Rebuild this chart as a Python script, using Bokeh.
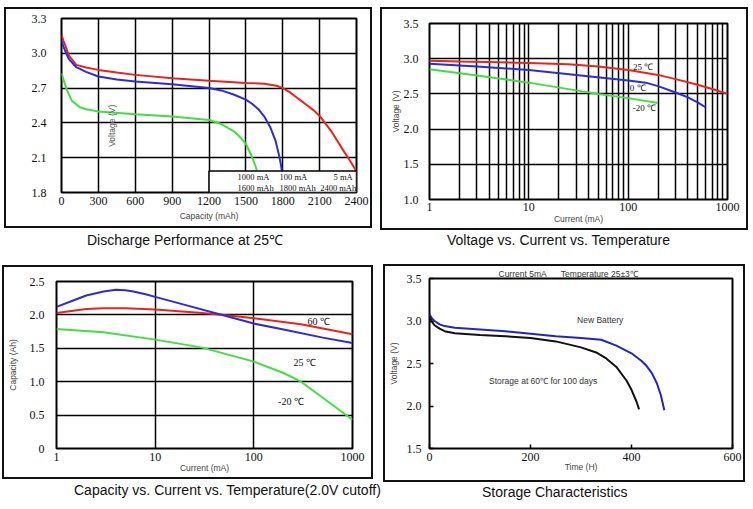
from math import pi
from bokeh.plotting import figure
from bokeh.models import (Label, Title, FixedTicker, PrintfTickFormatter, Range1d,
                          Div, Spacer)
from bokeh.layouts import column, row
from bokeh.embed import file_html
from bokeh.resources import INLINE

# ---------------- data ----------------
# Panel 1: Discharge performance at 25C
p1_xticks = [0, 300, 600, 900, 1200, 1500, 1800, 2100, 2400]
p1_yticks = [1.8, 2.1, 2.4, 2.7, 3.0, 3.3]
red5_cap = [0, 15, 30, 60, 120, 200, 300, 450, 600, 900, 1200, 1500, 1650, 1750, 1800,
            1850, 1900, 1950, 2000, 2050, 2100, 2200, 2300, 2350, 2395]
red5_v = [3.16, 3.11, 3.07, 2.98, 2.90, 2.878, 2.857, 2.835, 2.814, 2.785, 2.763, 2.745,
          2.738, 2.72, 2.70, 2.67, 2.63, 2.59, 2.55, 2.51, 2.46, 2.32, 2.15, 2.07, 1.99]
blue100_cap = [0, 15, 30, 60, 120, 200, 300, 450, 600, 900, 1200, 1300, 1400, 1500, 1550,
               1600, 1650, 1700, 1740, 1770, 1785, 1792]
blue100_v = [3.11, 3.06, 3.02, 2.95, 2.88, 2.84, 2.80, 2.775, 2.757, 2.734, 2.70, 2.68,
             2.645, 2.60, 2.565, 2.52, 2.455, 2.36, 2.25, 2.12, 2.04, 1.99]
green1000_cap = [0, 20, 45, 85, 150, 200, 300, 600, 900, 1200, 1300, 1400, 1450, 1500,
                 1540, 1570, 1590]
green1000_v = [2.83, 2.76, 2.68, 2.59, 2.535, 2.518, 2.498, 2.475, 2.455, 2.425, 2.39,
               2.33, 2.28, 2.22, 2.13, 2.05, 1.99]
p1_legend_rates = ["1000 mA", "100 mA", "5 mA"]
p1_legend_caps = ["1600 mAh", "1800 mAh", "2400 mAh"]

# Panel 2: Voltage vs current vs temperature
p2_xticks = [1, 10, 100, 1000]
p2_xminor = [2, 3, 4, 5, 6, 7, 8, 9, 20, 30, 40, 50, 60, 70, 80, 90,
             200, 300, 400, 500, 600, 700, 800, 900]
p2_yticks = [1.0, 1.5, 2.0, 2.5, 3.0, 3.5]
t25_i = [1, 2, 5, 10, 25, 50, 100, 200, 300, 500, 700, 1000]
t25_v = [2.97, 2.96, 2.95, 2.94, 2.92, 2.89, 2.84, 2.77, 2.71, 2.63, 2.57, 2.50]
t0_i = [1, 3, 10, 30, 100, 150, 200, 300, 400, 500, 600]
t0_v = [2.93, 2.89, 2.84, 2.77, 2.69, 2.66, 2.61, 2.52, 2.45, 2.38, 2.31]
tm20_i = [1, 3, 10, 30, 50, 100, 200]
tm20_v = [2.85, 2.76, 2.66, 2.55, 2.50, 2.44, 2.37]

# Panel 3: Capacity vs current vs temperature
p3_xticks = [1, 10, 100, 1000]
p3_yticks = [0, 0.5, 1.0, 1.5, 2.0, 2.5]
c25_i = [1, 1.5, 2, 3, 4, 5, 6, 8, 10, 20, 50, 100, 200, 500, 1000]
c25_c = [2.12, 2.22, 2.29, 2.35, 2.375, 2.37, 2.35, 2.31, 2.27, 2.15, 1.99, 1.87, 1.78, 1.66, 1.58]
c60_i = [1, 2, 3, 5, 10, 30, 50, 100, 300, 1000]
c60_c = [2.03, 2.09, 2.10, 2.10, 2.08, 2.03, 2.00, 1.95, 1.86, 1.71]
cm20_i = [1, 3, 10, 30, 100, 200, 300, 500, 1000]
cm20_c = [1.79, 1.74, 1.63, 1.51, 1.30, 1.13, 1.00, 0.76, 0.43]

# Panel 4: Storage characteristics
p4_xticks = [0, 200, 400, 600]
p4_yticks = [1.5, 2.0, 2.5, 3.0, 3.5]
new_t = [0, 5, 10, 20, 30, 50, 100, 150, 200, 250, 300, 340, 370, 400, 420, 430, 440, 450, 458, 465]
new_v = [3.08, 3.03, 3.00, 2.96, 2.94, 2.92, 2.90, 2.88, 2.85, 2.82, 2.80, 2.78, 2.71, 2.62,
         2.53, 2.47, 2.39, 2.27, 2.13, 1.95]
old_t = [0, 5, 10, 20, 30, 50, 100, 150, 200, 250, 300, 330, 350, 370, 390, 400, 410, 415]
old_v = [3.05, 2.99, 2.95, 2.91, 2.88, 2.855, 2.835, 2.82, 2.80, 2.76, 2.69, 2.63, 2.56,
         2.46, 2.30, 2.19, 2.05, 1.96]

# ---------------- styles ----------------
SERIF = "Liberation Serif"
SANS = "Liberation Sans"
RED = "#e82420"
BLUE = "#2c2cd8"
GREEN = "#44de40"
BORDER_CSS = {"border": "2px solid #111111"}


def make_fig(w, h, left, right, top, bottom, **kw):
    p = figure(width=w, height=h, output_backend="svg", toolbar_location=None,
               min_border_left=left, min_border_right=right,
               min_border_top=top, min_border_bottom=bottom, title=None,
               styles=BORDER_CSS, margin=0, **kw)
    p.outline_line_color = "black"
    p.outline_line_width = 2
    p.outline_line_alpha = 1
    p.background_fill_color = "white"
    p.border_fill_color = "white"
    for ax in p.axis:
        ax.axis_line_color = None
        ax.major_tick_line_color = None
        ax.minor_tick_line_color = None
        ax.major_label_text_font = SERIF
        ax.major_label_text_font_size = "12px"
        ax.major_label_text_color = "#111111"
        ax.axis_label_text_font = SANS
        ax.axis_label_text_font_size = "8.5px"
        ax.axis_label_text_font_style = "normal"
        ax.axis_label_text_color = "#444444"
    return p


def style_grid(p):
    for g in p.grid:
        g.grid_line_color = "black"
        g.grid_line_width = 1.5
        g.grid_line_alpha = 1


def data_label(p, text, x, y, size="9.5px", font=SERIF, color="#111111",
               align="left", angle=0):
    p.add_layout(Label(x=x, y=y, text=text, text_align=align, text_baseline="middle",
                       text_font=font, text_font_size=size, text_color=color,
                       angle=angle))


def caption(text, width, height, pad_top, pad_left):
    html = ('<div style="font-family:\'Liberation Sans\',Arial,sans-serif;font-size:14px;'
            'line-height:16px;color:#111;white-space:nowrap;text-align:left;'
            f'padding-top:{pad_top}px;padding-left:{pad_left}px;">'
            f'{text}</div>')
    return Div(text=html, width=width, height=height, margin=0,
               styles={"overflow": "visible"})


# ---------------- panel 1 ----------------
f1 = make_fig(368, 221, 55, 18, 9, 38,
              x_range=Range1d(0, 2400), y_range=Range1d(1.8, 3.3))
f1.xaxis.ticker = FixedTicker(ticks=p1_xticks)
f1.yaxis.ticker = FixedTicker(ticks=p1_yticks)
f1.yaxis.formatter = PrintfTickFormatter(format="%.1f")
f1.yaxis.major_label_standoff = 9
f1.xaxis.major_label_standoff = -2
style_grid(f1)
f1.line(red5_cap, red5_v, line_color=RED, line_width=2)
f1.line(blue100_cap, blue100_v, line_color=BLUE, line_width=2)
f1.line(green1000_cap, green1000_v, line_color=GREEN, line_width=2)
f1.quad(left=[1200], right=[2400], bottom=[1.8], top=[1.985],
        fill_color="white", line_color="black", line_width=1.5)
legend_x = [1432, 1774, 2213]
for lx, rate, cap in zip(legend_x, p1_legend_rates, p1_legend_caps):
    data_label(f1, rate, lx, 1.936, size="8.5px")
    if cap == "2400 mAh":
        data_label(f1, cap, 2398, 1.842, size="8.5px", align="right")
    else:
        data_label(f1, cap, lx, 1.842, size="8.5px")
data_label(f1, "Voltage (V)", 412, 2.375, size="8.5px", font=SANS, color="#555555",
           align="center", angle=pi / 2)
f1.add_layout(Title(text="Capacity (mAh)", align="center", offset=-11, standoff=2,
                    text_font=SANS, text_font_size="8.5px", text_font_style="normal",
                    text_color="#444444"), "below")
d1 = caption("Discharge Performance at 25\u2103", 368, 36, 4, 83)

# ---------------- panel 2 ----------------
f2 = make_fig(368, 223, 47, 23, 14, 33, x_axis_type="log",
              x_range=Range1d(1, 1000), y_range=Range1d(1.0, 3.5))
f2.xaxis.ticker = FixedTicker(ticks=p2_xticks, minor_ticks=p2_xminor)
f2.xaxis.formatter = PrintfTickFormatter(format="%d")
f2.yaxis.ticker = FixedTicker(ticks=p2_yticks)
f2.yaxis.formatter = PrintfTickFormatter(format="%.1f")
f2.yaxis.major_label_standoff = 5
f2.xaxis.major_label_standoff = -3
f2.xaxis.axis_label = "Current (mA)"
f2.yaxis.axis_label = "Voltage (V)"
f2.xaxis.axis_label_standoff = 0
f2.yaxis.axis_label_standoff = 0
style_grid(f2)
f2.xgrid.minor_grid_line_color = "black"
f2.xgrid.minor_grid_line_width = 1.5
f2.line(t25_i, t25_v, line_color=RED, line_width=2)
f2.line(t0_i, t0_v, line_color=BLUE, line_width=2)
f2.line(tm20_i, tm20_v, line_color=GREEN, line_width=2)
data_label(f2, "25 \u2103", 112, 2.876, size="9px")
data_label(f2, "0 \u2103", 104, 2.584, size="9px")
data_label(f2, "-20 \u2103", 111, 2.30, size="9px")
d2 = caption("Voltage vs. Current vs. Temperature", 368, 34, 2, 67)

# ---------------- panel 3 ----------------
f3 = make_fig(371, 214, 46, 23, 14, 33, x_axis_type="log",
              x_range=Range1d(1, 1000), y_range=Range1d(0, 2.5))
f3.xaxis.ticker = FixedTicker(ticks=p3_xticks)
f3.xaxis.formatter = PrintfTickFormatter(format="%d")
f3.yaxis.ticker = FixedTicker(ticks=p3_yticks)
f3.yaxis.formatter = PrintfTickFormatter(format="%.1f")
f3.yaxis.major_label_overrides = {0: "0"}
f3.yaxis.major_label_standoff = 6
f3.xaxis.major_label_standoff = -2
f3.xaxis.axis_label = "Current (mA)"
f3.yaxis.axis_label = "Capacity (Ah)"
f3.xaxis.axis_label_standoff = -1
f3.yaxis.axis_label_standoff = 9
style_grid(f3)
f3.line(c60_i, c60_c, line_color=RED, line_width=2)
f3.line(c25_i, c25_c, line_color=BLUE, line_width=2)
f3.line(cm20_i, cm20_c, line_color=GREEN, line_width=2)
data_label(f3, "60 \u2103", 350, 1.90, size="10px")
data_label(f3, "25 \u2103", 253, 1.28, size="10px")
data_label(f3, "-20 \u2103", 176, 0.70, size="10px")
d3 = caption("Capacity vs. Current vs. Temperature(2.0V cutoff)", 381, 25, 3, 72)

# ---------------- panel 4 ----------------
f4 = make_fig(362, 218, 43, 15, 10, 36,
              x_range=Range1d(0, 600), y_range=Range1d(1.5, 3.5))
f4.xaxis.ticker = FixedTicker(ticks=p4_xticks)
f4.yaxis.ticker = FixedTicker(ticks=p4_yticks)
f4.yaxis.formatter = PrintfTickFormatter(format="%.1f")
for ax in f4.axis:
    ax.major_tick_line_color = "black"
    ax.major_tick_line_width = 1.5
    ax.major_tick_in = 4
    ax.major_tick_out = 0
f4.yaxis.major_label_standoff = 8
f4.xaxis.major_label_standoff = 4
f4.xaxis.axis_label = "Time (H)"
f4.yaxis.axis_label = "Voltage (V)"
f4.xaxis.axis_label_standoff = -2
f4.yaxis.axis_label_standoff = 5
f4.grid.visible = False
f4.line(new_t, new_v, line_color="#2424c4", line_width=2)
f4.line(old_t, old_v, line_color="#111111", line_width=2)
data_label(f4, "New Battery", 338, 3.01, size="8.5px", font=SANS, color="#333333",
           align="center")
data_label(f4, "Storage at 60\u2103 for 100 days", 225, 2.30, size="8.5px", font=SANS,
           color="#333333", align="center")
f4.add_layout(Title(text="Current 5mA\u00a0\u00a0\u00a0\u00a0\u00a0\u00a0Temperature 25\u00b13\u2103",
                    align="left", offset=69, standoff=0,
                    text_font=SANS, text_font_size="8.5px", text_font_style="normal",
                    text_color="#333333"), "above")
d4 = caption("Storage Characteristics", 362, 22, 2, 99)

# ---------------- layout ----------------
col1 = column(Spacer(width=4, height=7, margin=0), f1, d1, spacing=0, margin=0)
col2 = column(Spacer(width=4, height=7, margin=0), f2, d2, spacing=0, margin=0)
top = row(Spacer(width=4, height=10, margin=0), col1, Spacer(width=8, height=10, margin=0),
          col2, spacing=0, margin=0)
col3 = column(Spacer(width=4, height=1, margin=0), f3, d3, spacing=0, margin=0)
col4 = column(f4, d4, spacing=0, margin=0)
bottom = row(Spacer(width=2, height=10, margin=0), col3, col4, spacing=0, margin=0)
layout = column(top, bottom, spacing=0, margin=0)
open("out.html", "w").write(file_html(layout, INLINE, title="Battery characteristics"))
